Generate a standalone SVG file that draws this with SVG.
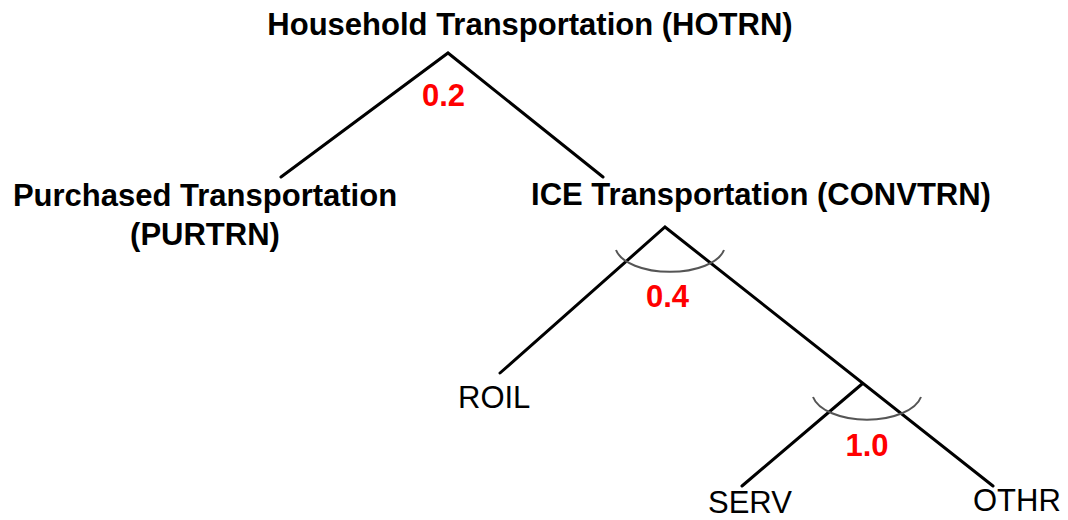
<svg xmlns="http://www.w3.org/2000/svg" width="1068" height="520" viewBox="0 0 1068 520">
<style>
.lbl{font-family:"Liberation Sans",Arial,sans-serif;font-size:31px;font-weight:bold;fill:#000}
.leaf{font-family:"Liberation Sans",Arial,sans-serif;font-size:31px;font-weight:normal;fill:#000}
.nest{font-family:"Liberation Sans",Arial,sans-serif;font-size:31px;font-weight:bold;fill:#ff0000;text-anchor:middle}
.ln{stroke:#000;stroke-width:3;fill:none;stroke-linecap:round}
.arc{stroke:#555;stroke-width:2;fill:none}
</style>
<rect width="1068" height="520" fill="#fff"/>
<g id="connectors">
<path class="ln" d="M281,177 L448,53 L603,177"/>
<path class="ln" d="M500,373 L665,227 L993,486"/>
<path class="ln" d="M742,486 L862,384"/>
<path class="arc" d="M616,250 A55,27 0 0 0 724,250"/>
<path class="arc" d="M813,397 A55,28 0 0 0 921,397"/>
<text class="nest" x="443.5" y="106">0.2</text>
<text class="nest" x="667.5" y="307">0.4</text>
<text class="nest" x="867" y="456">1.0</text>
</g>
<g id="node-hotrn"><text class="lbl" x="530" y="35" text-anchor="middle">Household Transportation (HOTRN)</text></g>
<g id="node-purtrn"><text class="lbl" x="205" y="206" text-anchor="middle">Purchased Transportation</text><text class="lbl" x="205" y="245" text-anchor="middle">(PURTRN)</text></g>
<g id="node-convtrn"><text class="lbl" x="761" y="205" text-anchor="middle">ICE Transportation (CONVTRN)</text></g>
<g id="node-roil"><text class="leaf" x="458" y="408">ROIL</text></g>
<g id="node-serv"><text class="leaf" x="708" y="513">SERV</text></g>
<g id="node-othr"><text class="leaf" x="973" y="511">OTHR</text></g>
</svg>
